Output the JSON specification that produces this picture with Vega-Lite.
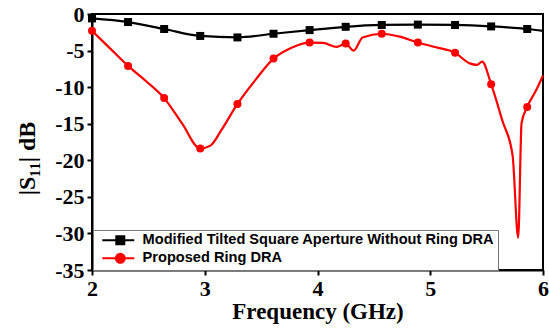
{
  "$schema": "https://vega.github.io/schema/vega-lite/v6.json",
  "width": 451,
  "height": 256,
  "autosize": {"type": "none"},
  "padding": {"left": 92, "top": 14, "right": 6, "bottom": 58},
  "background": "white",
  "datasets": {
    "curve": [
      {"f": 2.0, "s": -0.6, "series": "Modified Tilted Square Aperture Without Ring DRA"},
      {"f": 2.32, "s": -1.1, "series": "Modified Tilted Square Aperture Without Ring DRA"},
      {"f": 2.64, "s": -2.05, "series": "Modified Tilted Square Aperture Without Ring DRA"},
      {"f": 2.96, "s": -3.0, "series": "Modified Tilted Square Aperture Without Ring DRA"},
      {"f": 3.29, "s": -3.2, "series": "Modified Tilted Square Aperture Without Ring DRA"},
      {"f": 3.61, "s": -2.7, "series": "Modified Tilted Square Aperture Without Ring DRA"},
      {"f": 3.93, "s": -2.2, "series": "Modified Tilted Square Aperture Without Ring DRA"},
      {"f": 4.25, "s": -1.75, "series": "Modified Tilted Square Aperture Without Ring DRA"},
      {"f": 4.57, "s": -1.5, "series": "Modified Tilted Square Aperture Without Ring DRA"},
      {"f": 4.89, "s": -1.45, "series": "Modified Tilted Square Aperture Without Ring DRA"},
      {"f": 5.22, "s": -1.5, "series": "Modified Tilted Square Aperture Without Ring DRA"},
      {"f": 5.54, "s": -1.7, "series": "Modified Tilted Square Aperture Without Ring DRA"},
      {"f": 5.86, "s": -2.05, "series": "Modified Tilted Square Aperture Without Ring DRA"},
      {"f": 6.0, "s": -2.3, "series": "Modified Tilted Square Aperture Without Ring DRA"},
      {"f": 2.0, "s": -2.3, "series": "Proposed Ring DRA"},
      {"f": 2.16, "s": -4.7, "series": "Proposed Ring DRA"},
      {"f": 2.32, "s": -7.1, "series": "Proposed Ring DRA"},
      {"f": 2.48, "s": -9.2, "series": "Proposed Ring DRA"},
      {"f": 2.64, "s": -11.5, "series": "Proposed Ring DRA"},
      {"f": 2.8, "s": -15.0, "series": "Proposed Ring DRA"},
      {"f": 2.96, "s": -18.4, "series": "Proposed Ring DRA"},
      {"f": 3.05, "s": -18.0, "series": "Proposed Ring DRA"},
      {"f": 3.15, "s": -15.8, "series": "Proposed Ring DRA"},
      {"f": 3.29, "s": -12.3, "series": "Proposed Ring DRA"},
      {"f": 3.45, "s": -9.0, "series": "Proposed Ring DRA"},
      {"f": 3.61, "s": -6.1, "series": "Proposed Ring DRA"},
      {"f": 3.77, "s": -4.6, "series": "Proposed Ring DRA"},
      {"f": 3.93, "s": -3.9, "series": "Proposed Ring DRA"},
      {"f": 4.05, "s": -3.95, "series": "Proposed Ring DRA"},
      {"f": 4.17, "s": -4.5, "series": "Proposed Ring DRA"},
      {"f": 4.25, "s": -4.05, "series": "Proposed Ring DRA"},
      {"f": 4.32, "s": -5.0, "series": "Proposed Ring DRA"},
      {"f": 4.4, "s": -3.2, "series": "Proposed Ring DRA"},
      {"f": 4.57, "s": -2.7, "series": "Proposed Ring DRA"},
      {"f": 4.73, "s": -3.1, "series": "Proposed Ring DRA"},
      {"f": 4.89, "s": -3.9, "series": "Proposed Ring DRA"},
      {"f": 5.05, "s": -4.55, "series": "Proposed Ring DRA"},
      {"f": 5.22, "s": -5.3, "series": "Proposed Ring DRA"},
      {"f": 5.35, "s": -6.75, "series": "Proposed Ring DRA"},
      {"f": 5.415, "s": -6.95, "series": "Proposed Ring DRA"},
      {"f": 5.46, "s": -6.5, "series": "Proposed Ring DRA"},
      {"f": 5.54, "s": -9.6, "series": "Proposed Ring DRA"},
      {"f": 5.64, "s": -14.6, "series": "Proposed Ring DRA"},
      {"f": 5.73, "s": -19.3, "series": "Proposed Ring DRA"},
      {"f": 5.78, "s": -30.6, "series": "Proposed Ring DRA"},
      {"f": 5.81, "s": -14.9, "series": "Proposed Ring DRA"},
      {"f": 5.86, "s": -12.7, "series": "Proposed Ring DRA"},
      {"f": 5.94, "s": -10.4, "series": "Proposed Ring DRA"},
      {"f": 6.0, "s": -8.4, "series": "Proposed Ring DRA"}
    ],
    "blackSamples": [
      {"f": 2.0, "s": -0.6, "series": "Modified Tilted Square Aperture Without Ring DRA"},
      {"f": 2.32, "s": -1.1, "series": "Modified Tilted Square Aperture Without Ring DRA"},
      {"f": 2.64, "s": -2.05, "series": "Modified Tilted Square Aperture Without Ring DRA"},
      {"f": 2.96, "s": -3.0, "series": "Modified Tilted Square Aperture Without Ring DRA"},
      {"f": 3.29, "s": -3.2, "series": "Modified Tilted Square Aperture Without Ring DRA"},
      {"f": 3.61, "s": -2.7, "series": "Modified Tilted Square Aperture Without Ring DRA"},
      {"f": 3.93, "s": -2.2, "series": "Modified Tilted Square Aperture Without Ring DRA"},
      {"f": 4.25, "s": -1.75, "series": "Modified Tilted Square Aperture Without Ring DRA"},
      {"f": 4.57, "s": -1.5, "series": "Modified Tilted Square Aperture Without Ring DRA"},
      {"f": 4.89, "s": -1.45, "series": "Modified Tilted Square Aperture Without Ring DRA"},
      {"f": 5.22, "s": -1.5, "series": "Modified Tilted Square Aperture Without Ring DRA"},
      {"f": 5.54, "s": -1.7, "series": "Modified Tilted Square Aperture Without Ring DRA"},
      {"f": 5.86, "s": -2.05, "series": "Modified Tilted Square Aperture Without Ring DRA"}
    ],
    "redSamples": [
      {"f": 2.0, "s": -2.3, "series": "Proposed Ring DRA"},
      {"f": 2.32, "s": -7.1, "series": "Proposed Ring DRA"},
      {"f": 2.64, "s": -11.5, "series": "Proposed Ring DRA"},
      {"f": 2.96, "s": -18.4, "series": "Proposed Ring DRA"},
      {"f": 3.29, "s": -12.3, "series": "Proposed Ring DRA"},
      {"f": 3.61, "s": -6.1, "series": "Proposed Ring DRA"},
      {"f": 3.93, "s": -3.9, "series": "Proposed Ring DRA"},
      {"f": 4.25, "s": -4.05, "series": "Proposed Ring DRA"},
      {"f": 4.57, "s": -2.7, "series": "Proposed Ring DRA"},
      {"f": 4.89, "s": -3.9, "series": "Proposed Ring DRA"},
      {"f": 5.22, "s": -5.3, "series": "Proposed Ring DRA"},
      {"f": 5.54, "s": -9.6, "series": "Proposed Ring DRA"},
      {"f": 5.86, "s": -12.7, "series": "Proposed Ring DRA"}
    ]
  },
  "encoding": {
    "x": {
      "field": "f", "type": "quantitative",
      "scale": {"domain": [2, 6], "nice": false, "zero": false},
      "axis": {
        "values": [2, 3, 4, 5, 6],
        "title": "Frequency (GHz)",
        "titleFontSize": 23,
        "labelPadding": 3,
        "labelFlush": false,
        "titleY": 30,
        "titleBaseline": "top",
        "labelExpr": "'' + datum.value"
      }
    },
    "y": {
      "field": "s", "type": "quantitative",
      "scale": {"domain": [-35, 0], "nice": false, "zero": false},
      "axis": {
        "values": [-35, -30, -25, -20, -15, -10, -5, 0],
        "title": "|S₁₁| dB",
        "titleFontSize": 24,
        "titleX": -53,
        "titleY": 144,
        "labelPadding": 3,
        "labelExpr": "'' + datum.value"
      }
    },
    "color": {
      "field": "series", "type": "nominal",
      "scale": {
        "domain": ["Modified Tilted Square Aperture Without Ring DRA", "Proposed Ring DRA"],
        "range": ["#000000", "#ff0000"]
      },
      "legend": {
        "title": null,
        "orient": "none",
        "legendX": 1,
        "legendY": 216,
        "padding": 3,
        "fillColor": "white",
        "strokeColor": "#777777",
        "symbolSize": 100,
        "symbolOffset": 17,
        "labelOffset": 15,
        "labelFont": "Liberation Sans",
        "labelFontWeight": "bold",
        "labelFontSize": 14.6,
        "labelColor": "black",
        "labelLimit": 600,
        "rowPadding": 0,
        "symbolStrokeWidth": 2,
        "encode": {
          "symbols": {
            "enter": {
              "shape": {"signal": "datum.value === 'Proposed Ring DRA' ? 'M-3.6,0H2.8M0.9,0A0.9,0.9,0,1,1,-0.9,0A0.9,0.9,0,1,1,0.9,0Z' : 'M-3.6,0H2.8M-0.8,-0.8H0.8V0.8H-0.8Z'"}
            },
            "update": {
              "shape": {"signal": "datum.value === 'Proposed Ring DRA' ? 'M-3.6,0H2.8M0.9,0A0.9,0.9,0,1,1,-0.9,0A0.9,0.9,0,1,1,0.9,0Z' : 'M-3.6,0H2.8M-0.8,-0.8H0.8V0.8H-0.8Z'"},
              "fill": {"signal": "datum.value === 'Proposed Ring DRA' ? '#ff0000' : '#000000'"},
              "stroke": {"signal": "datum.value === 'Proposed Ring DRA' ? '#ff0000' : '#000000'"},
              "strokeWidth": {"value": 2},
              "opacity": {"value": 1}
            }
          }
        }
      }
    }
  },
  "layer": [
    {
      "data": {"name": "curve"},
      "mark": {"type": "line", "interpolate": "monotone", "strokeWidth": 2.2}
    },
    {
      "data": {"name": "blackSamples"},
      "mark": {"type": "point", "filled": true, "size": 64, "opacity": 1, "shape": "square"}
    },
    {
      "data": {"name": "redSamples"},
      "mark": {"type": "point", "filled": true, "size": 64, "opacity": 1, "shape": "circle"}
    }
  ],
  "config": {
    "view": {"stroke": "black", "strokeWidth": 2},
    "axis": {
      "grid": false,
      "domainColor": "black",
      "domainWidth": 2,
      "tickColor": "black",
      "tickWidth": 2,
      "tickSize": 5,
      "labelColor": "black",
      "labelFont": "Liberation Serif",
      "labelFontWeight": "bold",
      "labelFontSize": 22,
      "titleFont": "Liberation Serif",
      "titleFontWeight": "bold",
      "titleColor": "black"
    }
  }
}
